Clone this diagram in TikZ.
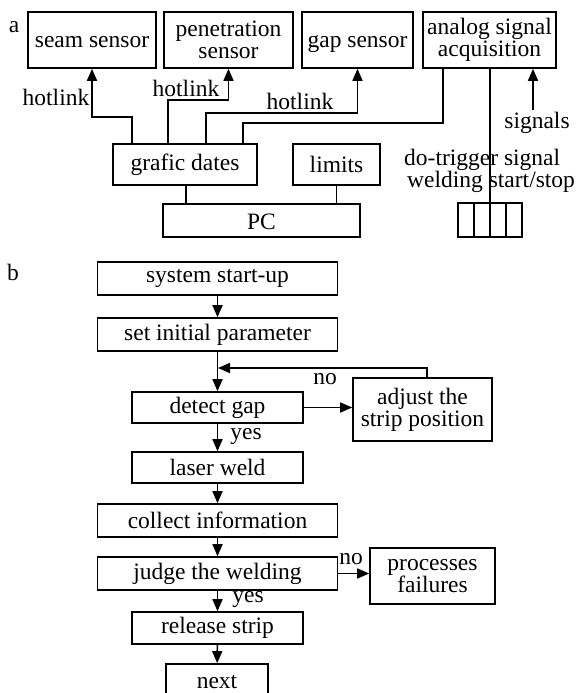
\documentclass[tikz,border=0pt]{standalone}
\usepackage{fontspec}
\setmainfont{Liberation Serif}
\usetikzlibrary{arrows.meta,calc}
\begin{document}
\begin{tikzpicture}[x=1pt,y=-1pt,
  every node/.style={font=\fontsize{23.5}{22}\selectfont},
  box/.style={draw,line width=1.6pt,inner sep=0pt,align=center},
  lab/.style={inner sep=0pt},
  conn/.style={line width=1.6pt},
  arr/.style={line width=1.6pt,-{Triangle[length=12pt,width=10pt]}}]
\useasboundingbox (0,0) rectangle (576,693);
\clip (0,0) rectangle (576,693);
% ---------- part a ----------
\node[lab] (la) at (14,27) {a};
\node[box,minimum width=128,minimum height=56,text height=16pt,text depth=0pt] (seam) at (92,40) {seam sensor};
\node[box,minimum width=129,minimum height=56] (pen) at (228.5,40) {penetration\\sensor};
\node[box,minimum width=111,minimum height=56,text height=16pt,text depth=0pt] (gap) at (357.5,40) {gap sensor};
\node[box,minimum width=133,minimum height=56] (ana) at (489.5,40) {analog signal\\acquisition};
\node[box,minimum width=144,minimum height=41] (graf) at (185,164.5) {grafic dates};
\node[box,minimum width=87,minimum height=41] (lim) at (336.5,164.5) {limits};
\node[box,minimum width=197,minimum height=33,text height=18pt,text depth=0pt] (pc) at (261.5,220.5) {PC};
\node[box,minimum width=64,minimum height=34] (arrbox) at (490,220) {};
\draw[conn] (474,203) -- (474,237) (506,203) -- (506,237);
% taps
\coordinate (t1) at (132,144);
\coordinate (t2) at (168,144);
\coordinate (t3) at (206,144);
\coordinate (t4) at (243,144);
\draw[arr] (t1) -- (132,117) -| (seam.south);
\draw[arr] (t2) -- (168,100) -| (pen.south);
\draw[arr] (t3) -- (206,113) -| (gap.south);
\draw[conn] (t4) -- (243,123) -| (443,68);
\draw[conn] (graf.south -| 186,0) -- (pc.north -| 186,0);
\draw[conn] (lim.south) -- (pc.north -| lim.south);
\draw[conn] (ana.south -| arrbox.south) -- (arrbox.south);
\coordinate (sig) at (533,110);
\draw[arr] (sig) -- (ana.south -| sig);
\node[lab] (h1) at (56,97) {hotlink};
\node[lab] (h2) at (186,88) {hotlink};
\node[lab] (h3) at (300,101) {hotlink};
\node[lab] (sg) at (537,123) {signals};
\node[lab,anchor=west] (dt) at (404,160) {do-trigger signal};
\node[lab,anchor=west] (ws) at (407,182) {welding start/stop};
% ---------- part b ----------
\node[lab] (lb) at (13,272) {b};
\node[box,minimum width=240,minimum height=33] (s1) at (217.5,278.5) {system start-up};
\node[box,minimum width=240,minimum height=33] (s2) at (217.5,334.5) {set initial parameter};
\node[box,minimum width=171,minimum height=31] (s3) at (217.5,407.5) {detect gap};
\node[box,minimum width=139,minimum height=63] (adj) at (422.5,409.5) {adjust the\\strip position};
\node[box,minimum width=171,minimum height=31] (s4) at (217.5,467.5) {laser weld};
\node[box,minimum width=240,minimum height=33] (s5) at (217.5,520.5) {collect information};
\node[box,minimum width=240,minimum height=33] (s6) at (217.5,573.5) {judge the welding};
\node[box,minimum width=125,minimum height=56] (fail) at (432.5,576) {processes\\failures};
\node[box,minimum width=171,minimum height=32] (s7) at (217.5,628) {release strip};
\node[box,minimum width=102,minimum height=36,text depth=0pt] (s8) at (217,682) {next};
\draw[arr] (s1) -- (s2);
\draw[arr] (s2) -- (s3);
\draw[arr] (s3) -- (s4);
\draw[arr] (s4) -- (s5);
\draw[arr] (s5) -- (s6);
\draw[arr] (s6) -- (s7);
\draw[arr] (s7) -- (s8);
\draw[arr] (adj.north -| 427,0) |- (218,368);
\draw[arr] (s3.east) -- (s3.east -| adj.west);
\draw[arr] (s6.east) -- (s6.east -| fail.west);
\node[lab] (n1) at (325,379) {no};
\node[lab] (y1) at (246,436) {yes};
\node[lab] (n2) at (351,559) {no};
\node[lab] (y2) at (248,599) {yes};
\end{tikzpicture}
\end{document}
